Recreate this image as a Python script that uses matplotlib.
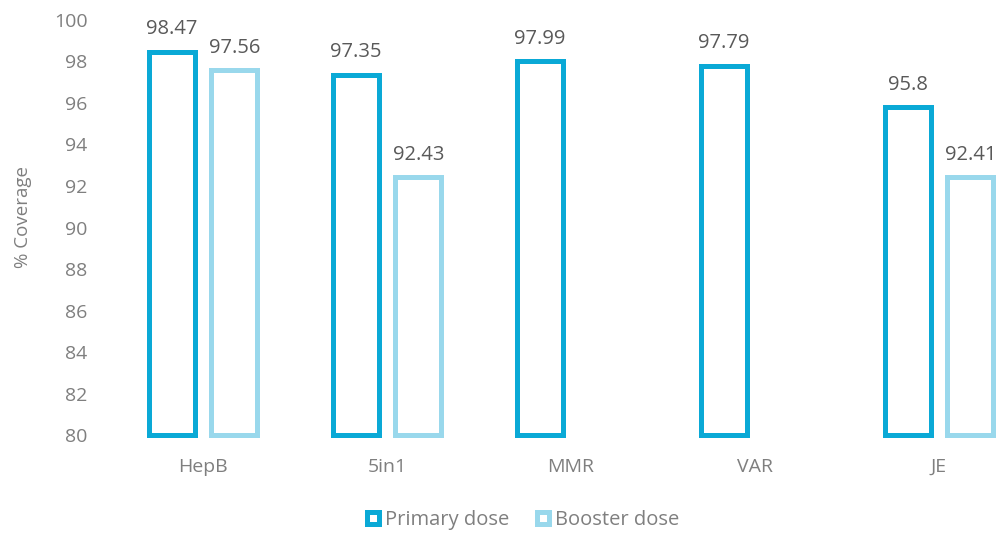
import numpy as np
import matplotlib.pyplot as plt
from matplotlib.lines import Line2D

plt.rcParams['font.family'] = ['Open Sans', 'DejaVu Sans']

# Vaccination coverage by vaccine
vaccines = ['HepB', '5in1', 'MMR', 'VAR', 'JE']
primary = [98.47, 97.35, 97.99, 97.79, 95.8]
booster = [97.56, 92.43, np.nan, np.nan, 92.41]

primary_color = '#0aa9d6'
booster_color = '#99d8ec'
base = 80

fig = plt.figure(figsize=(9.98, 5.33), dpi=100)
ax = fig.add_axes([111 / 998, 1 - 435.5 / 533, 887 / 998, 415.8 / 533])

x = np.arange(len(vaccines))
width = 0.25
offset = 0.17

prim_h = [v - base for v in primary]
boost_h = [v - base for v in booster]

b1 = ax.bar(x - offset, prim_h, width, bottom=base, facecolor='white',
            edgecolor=primary_color, linewidth=3.6, clip_on=False)
b2 = ax.bar(x + offset, boost_h, width, bottom=base, facecolor='white',
            edgecolor=booster_color, linewidth=3.6, clip_on=False)

ax.bar_label(b1, labels=[str(v) for v in primary], padding=9,
             fontsize=14.5, color='#595959')
ax.bar_label(b2, labels=['' if np.isnan(v) else str(v) for v in booster],
             padding=9, fontsize=14.5, color='#595959')

ax.set_ylim(80, 100)
ax.set_yticks(range(80, 101, 2))
ax.set_xlim(-0.5, (998 - 203) / 184)
ax.set_xticks(x)
ax.set_xticklabels(vaccines)

for s in ax.spines.values():
    s.set_visible(False)
ax.tick_params(axis='both', length=0, labelsize=14, labelcolor='#7f7f7f')
ax.tick_params(axis='y', pad=17)
ax.tick_params(axis='x', pad=16)

ax.set_ylabel('% Coverage', fontsize=13.5, color='#7f7f7f')
ax.yaxis.set_label_coords(-(111 - 32) / 887, 0.525)

handles = [
    Line2D([], [], linestyle='none', marker='s', markersize=8.6,
           markerfacecolor='white', markeredgecolor=primary_color,
           markeredgewidth=3.6),
    Line2D([], [], linestyle='none', marker='s', markersize=8.6,
           markerfacecolor='white', markeredgecolor=booster_color,
           markeredgewidth=3.6),
]
fig.legend(handles, ['Primary dose', 'Booster dose'], loc='center',
           bbox_to_anchor=(522 / 998, 1 - 520 / 533), ncol=2, frameon=False,
           fontsize=14.5, labelcolor='#7f7f7f', handlelength=0.8,
           handletextpad=0.2, columnspacing=1.3)

fig.savefig('out.png', dpi=100)
